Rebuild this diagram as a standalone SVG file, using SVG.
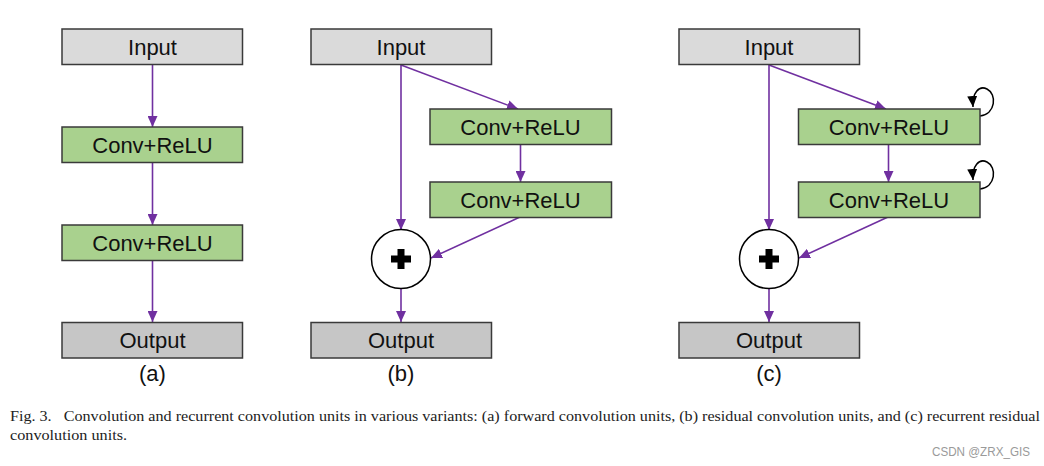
<svg xmlns="http://www.w3.org/2000/svg" width="1044" height="466" viewBox="0 0 1044 466">
<style>
.box{stroke:#3a3a3a;stroke-width:1.5}
.in{fill:#dadada}
.out{fill:#c6c6c6}
.conv{fill:#a9d18e}
.lbl{font-family:"Liberation Sans",Arial,sans-serif;font-size:22px;fill:#111;text-anchor:middle}
.e{stroke:#7030a0;stroke-width:1.6;fill:none;marker-end:url(#ah)}
.loop{stroke:#000;stroke-width:1.5;fill:none;marker-end:url(#bh)}
.cap{font-family:"Liberation Serif","Times New Roman",serif;font-size:14px;fill:#222}
</style>
<defs>
<marker id="ah" markerUnits="userSpaceOnUse" markerWidth="12" markerHeight="10" refX="11" refY="5" orient="auto">
<path d="M0,0 L11,5 L0,10 Z" fill="#7030a0"/>
</marker>
<marker id="bh" markerUnits="userSpaceOnUse" markerWidth="12" markerHeight="10" refX="11" refY="5" orient="auto">
<path d="M0,0 L11,5 L0,10 Z" fill="#000"/>
</marker>
</defs>
<rect width="1044" height="466" fill="#fff"/>

<g id="connectors">
<line class="e" x1="152.5" y1="65" x2="152.5" y2="127"/>
<line class="e" x1="152.5" y1="162" x2="152.5" y2="225"/>
<line class="e" x1="152.5" y1="260" x2="152.5" y2="322"/>
<line class="e" x1="401" y1="65" x2="401" y2="230"/>
<line class="e" x1="401" y1="65" x2="518" y2="109"/>
<line class="e" x1="520.5" y1="144" x2="520.5" y2="182"/>
<line class="e" x1="520" y1="217" x2="431" y2="258"/>
<line class="e" x1="401" y1="288" x2="401" y2="322"/>
<line class="e" x1="769" y1="65" x2="769" y2="230"/>
<line class="e" x1="769" y1="65" x2="886" y2="109"/>
<line class="e" x1="888.5" y1="144" x2="888.5" y2="182"/>
<line class="e" x1="888" y1="217" x2="799" y2="258"/>
<line class="e" x1="769" y1="288" x2="769" y2="322"/>
<path class="loop" d="M980,116 C996,114 997,94 987,89 C979,85 972,93 973,107"/>
<path class="loop" d="M980,189 C996,187 997,167 987,162 C979,158 972,166 973,180"/>
</g>

<g id="a-input"><rect class="box in" x="62" y="29" width="180.5" height="35.5"/><text class="lbl" x="152.5" y="54.5">Input</text></g>
<g id="a-conv1"><rect class="box conv" x="62" y="127" width="180.5" height="35.5"/><text class="lbl" x="152.5" y="152.5">Conv+ReLU</text></g>
<g id="a-conv2"><rect class="box conv" x="62" y="225" width="180.5" height="35.5"/><text class="lbl" x="152.5" y="250.5">Conv+ReLU</text></g>
<g id="a-output"><rect class="box out" x="62" y="322.5" width="180.5" height="35.5"/><text class="lbl" x="152.5" y="348">Output</text></g>
<g id="a-label"><text class="lbl" x="152.5" y="381">(a)</text></g>

<g id="b-input"><rect class="box in" x="311" y="29" width="180.5" height="35.5"/><text class="lbl" x="401" y="54.5">Input</text></g>
<g id="b-conv1"><rect class="box conv" x="430" y="109" width="181.5" height="35.5"/><text class="lbl" x="520.5" y="134.5">Conv+ReLU</text></g>
<g id="b-conv2"><rect class="box conv" x="430" y="182" width="181.5" height="35.5"/><text class="lbl" x="520.5" y="207.5">Conv+ReLU</text></g>
<g id="b-sum"><circle cx="401" cy="259" r="29.5" fill="#fff" stroke="#000" stroke-width="1.5"/><path d="M397.5,249 h7 v6.5 h6.5 v7 h-6.5 v6.5 h-7 v-6.5 h-6.5 v-7 h6.5 Z" fill="#000"/></g>
<g id="b-output"><rect class="box out" x="311" y="322.5" width="180.5" height="35.5"/><text class="lbl" x="401" y="348">Output</text></g>
<g id="b-label"><text class="lbl" x="401" y="381">(b)</text></g>

<g id="c-input"><rect class="box in" x="679" y="29" width="180.5" height="35.5"/><text class="lbl" x="769" y="54.5">Input</text></g>
<g id="c-conv1"><rect class="box conv" x="798.5" y="109" width="181.5" height="35.5"/><text class="lbl" x="889" y="134.5">Conv+ReLU</text></g>
<g id="c-conv2"><rect class="box conv" x="798.5" y="182" width="181.5" height="35.5"/><text class="lbl" x="889" y="207.5">Conv+ReLU</text></g>
<g id="c-sum"><circle cx="769" cy="259" r="29.5" fill="#fff" stroke="#000" stroke-width="1.5"/><path d="M765.5,249 h7 v6.5 h6.5 v7 h-6.5 v6.5 h-7 v-6.5 h-6.5 v-7 h6.5 Z" fill="#000"/></g>
<g id="c-output"><rect class="box out" x="679" y="322.5" width="180.5" height="35.5"/><text class="lbl" x="769" y="348">Output</text></g>
<g id="c-label"><text class="lbl" x="769" y="381">(c)</text></g>

<g id="caption">
<text class="cap" x="10" y="421" textLength="1030" lengthAdjust="spacingAndGlyphs" xml:space="preserve">Fig. 3.   Convolution and recurrent convolution units in various variants: (a) forward convolution units, (b) residual convolution units, and (c) recurrent residual</text>
<text class="cap" x="10" y="440" textLength="117" lengthAdjust="spacingAndGlyphs">convolution units.</text>
<text x="932" y="456" font-family="'Liberation Sans',Arial,sans-serif" font-size="12" fill="#9a9a9a" textLength="98" lengthAdjust="spacingAndGlyphs">CSDN @ZRX_GIS</text>
</g>
</svg>
